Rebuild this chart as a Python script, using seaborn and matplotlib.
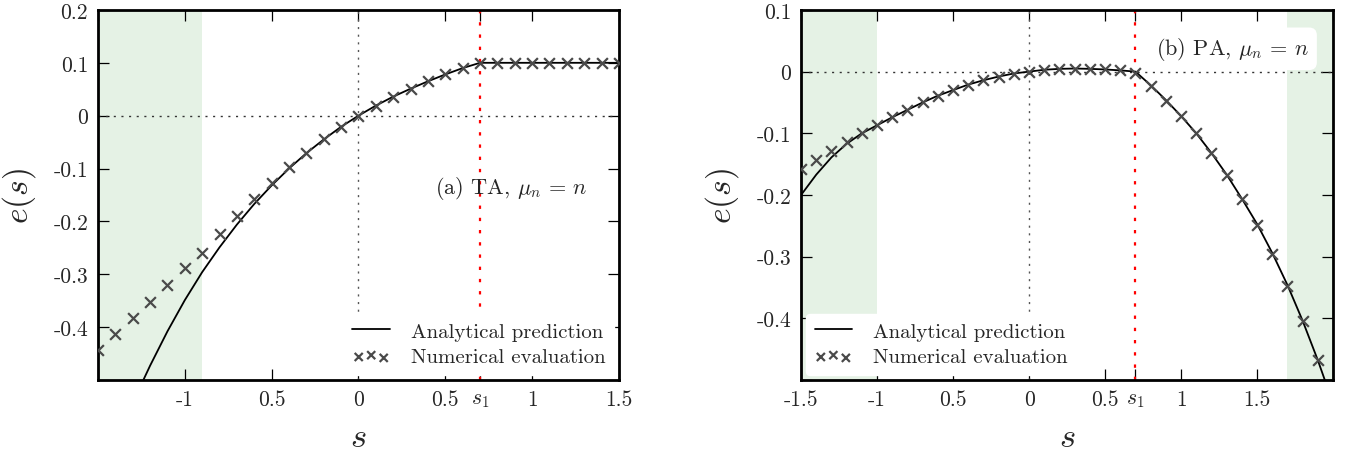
import matplotlib
matplotlib.use("Agg")
import matplotlib.pyplot as plt
import numpy as np
import pandas as pd
import seaborn as sns

# ---------------- data ----------------
S1 = 0.7

ta_s_num = [-1.5, -1.4, -1.3, -1.2, -1.1, -1.0, -0.9, -0.8, -0.7, -0.6, -0.5,
            -0.4, -0.3, -0.2, -0.1, 0.0, 0.1, 0.2, 0.3, 0.4, 0.5, 0.6, 0.7,
            0.8, 0.9, 1.0, 1.1, 1.2, 1.3, 1.4, 1.5]
ta_e_num = [-0.443, -0.413, -0.382, -0.352, -0.320, -0.288, -0.260, -0.223,
            -0.190, -0.158, -0.127, -0.097, -0.070, -0.045, -0.021, 0.0,
            0.018, 0.036, 0.051, 0.065, 0.078, 0.090, 0.100,
            0.100, 0.100, 0.100, 0.100, 0.100, 0.100, 0.100, 0.100]

ta_s_ana = [-1.25, -1.2, -1.1, -1.0, -0.9, -0.8, -0.7, -0.6, -0.5, -0.4, -0.3,
            -0.2, -0.1, 0.0, 0.1, 0.2, 0.3, 0.4, 0.5, 0.6, 0.7, 1.5]
ta_e_ana = [-0.508, -0.473, -0.408, -0.349, -0.296, -0.249, -0.206, -0.167,
            -0.132, -0.100, -0.071, -0.045, -0.021, 0.0, 0.019, 0.036, 0.051,
            0.065, 0.078, 0.090, 0.100, 0.100]

pa_s_num = [-1.5, -1.4, -1.3, -1.2, -1.1, -1.0, -0.9, -0.8, -0.7, -0.6, -0.5,
            -0.4, -0.3, -0.2, -0.1, 0.0, 0.1, 0.2, 0.3, 0.4, 0.5, 0.6, 0.7,
            0.8, 0.9, 1.0, 1.1, 1.2, 1.3, 1.4, 1.5, 1.6, 1.7, 1.8, 1.9]
pa_e_num = [-0.158, -0.143, -0.128, -0.114, -0.100, -0.086, -0.073, -0.062,
            -0.050, -0.039, -0.030, -0.021, -0.014, -0.008, -0.004, 0.0,
            0.003, 0.004, 0.005, 0.005, 0.004, 0.002, -0.002,
            -0.023, -0.047, -0.072, -0.100, -0.132, -0.167, -0.206, -0.248,
            -0.295, -0.347, -0.404, -0.468]

pa_s_ana = [-1.5, -1.4, -1.3, -1.2, -1.1, -1.0, -0.9, -0.8, -0.7, -0.6, -0.5,
            -0.4, -0.3, -0.2, -0.1, 0.0, 0.1, 0.2, 0.3, 0.4, 0.5, 0.6, 0.7,
            0.8, 0.9, 1.0, 1.1, 1.2, 1.3, 1.4, 1.5, 1.6, 1.7, 1.8, 1.9, 1.95]
pa_e_ana = [-0.200, -0.167, -0.139, -0.117, -0.100, -0.087, -0.074, -0.062,
            -0.050, -0.039, -0.030, -0.021, -0.014, -0.008, -0.003, 0.0,
            0.003, 0.0045, 0.005, 0.0045, 0.0035, 0.002, 0.0,
            -0.022, -0.046, -0.072, -0.100, -0.132, -0.167, -0.206, -0.247,
            -0.294, -0.346, -0.404, -0.468, -0.503]

ta_xticks = [-1.5, -1.0, -0.5, 0.0, 0.5, S1, 1.0, 1.5]
ta_xticklabels = ["", "-1", "0.5", "0", "0.5", "$s_1$", "1", "1.5"]
ta_yticks = [0.2, 0.1, 0.0, -0.1, -0.2, -0.3, -0.4, -0.5]
ta_yticklabels = ["0.2", "0.1", "0", "-0.1", "-0.2", "-0.3", "-0.4", ""]

pa_xticks = [-1.5, -1.0, -0.5, 0.0, 0.5, S1, 1.0, 1.5, 2.0]
pa_xticklabels = ["-1.5", "-1", "0.5", "0", "0.5", "$s_1$", "1", "1.5", ""]
pa_yticks = [0.1, 0.0, -0.1, -0.2, -0.3, -0.4, -0.5]
pa_yticklabels = ["0.1", "0", "-0.1", "-0.2", "-0.3", "-0.4", ""]

ta_shade = [(-1.5, -0.9)]
pa_shade = [(-1.5, -1.0), (1.7, 2.0)]

# ---------------- style ----------------
sns.set_style("ticks")
plt.rcParams["font.family"] = ["cmr10", "DejaVu Serif"]
plt.rcParams["mathtext.fontset"] = "cm"
plt.rcParams["axes.unicode_minus"] = False
plt.rcParams["axes.formatter.use_mathtext"] = True

fig = plt.figure(figsize=(13.55, 4.56), dpi=100)
ax1 = fig.add_axes([0.0723, 0.1645, 0.3845, 0.8115])
ax2 = fig.add_axes([0.5912, 0.1645, 0.3926, 0.8115])

mcol = "#4a4a4a"


def draw(ax, s_ana, e_ana, s_num, e_num, xlim, ylim, shades,
         xticks, xlabels, yticks, ylabels, legloc, label, label_xy, boxed):
    for a, b in shades:
        ax.axvspan(a, b, color="green", alpha=0.1, lw=0, zorder=0)
    ax.axhline(0, color="#333333", ls=(0, (1.5, 4)), lw=1.0, zorder=1)
    ax.axvline(0, color="#555555", ls=(0, (1.5, 4)), lw=1.0, zorder=1)
    ax.axvline(S1, color="red", ls=(0, (1.5, 4)), lw=1.6, zorder=1)
    df_a = pd.DataFrame({"s": s_ana, "e": e_ana})
    df_n = pd.DataFrame({"s": s_num, "e": e_num})
    sns.lineplot(data=df_a, x="s", y="e", ax=ax, color="black", lw=1.3,
                 estimator=None, label="Analytical prediction", zorder=3)
    sns.scatterplot(data=df_n, x="s", y="e", ax=ax, marker="x", s=60,
                    color=mcol, linewidth=1.6, label="Numerical evaluation",
                    zorder=4)
    ax.set_xlim(*xlim)
    ax.set_ylim(*ylim)
    ax.set_xticks(xticks)
    ax.set_xticklabels(xlabels)
    ax.set_yticks(yticks)
    ax.set_yticklabels(ylabels)
    ax.tick_params(direction="in", length=8, width=0.9, top=True, right=True,
                   labelsize=15.5, pad=7, color="black")
    for sp in ax.spines.values():
        sp.set_linewidth(2.0)
        sp.set_color("black")
    ax.set_xlabel("$s$", fontsize=25, labelpad=9)
    ax.set_ylabel("$e(s)$", fontsize=24, labelpad=11)
    leg = ax.legend(loc=legloc, fontsize=15, frameon=True, framealpha=1,
                    edgecolor="white", facecolor="white", scatterpoints=3,
                    markerscale=0.75, handlelength=1.8, handletextpad=1.0,
                    borderaxespad=0.25, borderpad=0.4, labelspacing=0.35,
                    fancybox=True)
    leg.set_zorder(5)
    bbox = dict(boxstyle="round,pad=0.35", fc="white", ec="none") if boxed else None
    ax.text(label_xy[0], label_xy[1], label, fontsize=16, ha="center",
            va="center", bbox=bbox, zorder=6)


draw(ax1, ta_s_ana, ta_e_ana, ta_s_num, ta_e_num, (-1.5, 1.5), (-0.5, 0.2),
     ta_shade, ta_xticks, ta_xticklabels, ta_yticks, ta_yticklabels,
     "lower right", r"(a) TA, $\mu_n\,=\,n$", (0.88, -0.135), False)
draw(ax2, pa_s_ana, pa_e_ana, pa_s_num, pa_e_num, (-1.5, 2.0), (-0.5, 0.1),
     pa_shade, pa_xticks, pa_xticklabels, pa_yticks, pa_yticklabels,
     "lower left", r"(b) PA, $\mu_n\,=\,n$", (1.34, 0.037), True)

fig.savefig("out.png", dpi=100)
